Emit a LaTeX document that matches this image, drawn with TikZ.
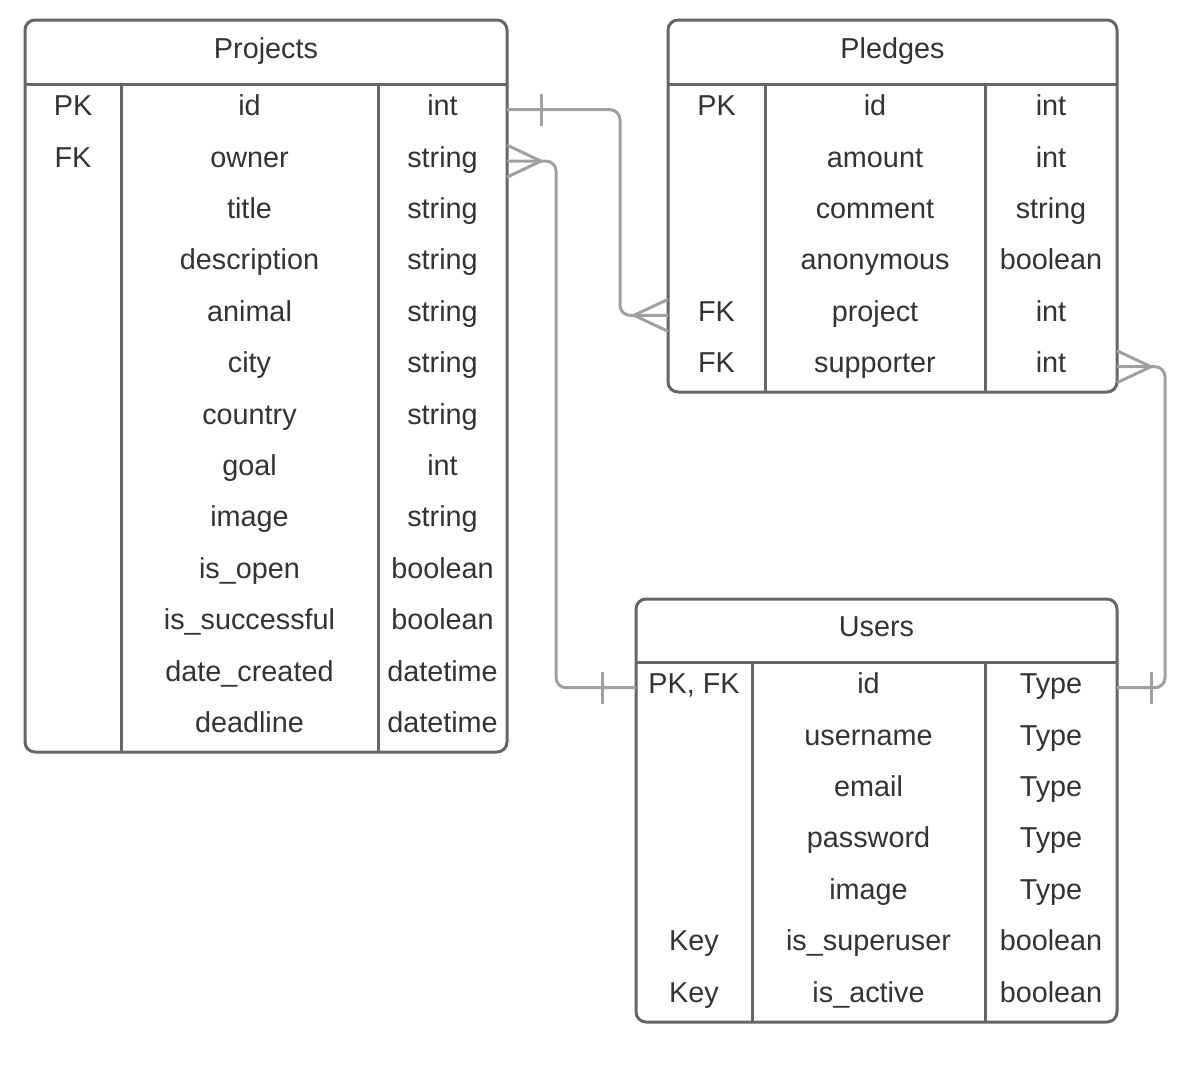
\documentclass[tikz,border=0pt]{standalone}
\usepackage{fontspec}
\setmainfont{Liberation Sans}
\usetikzlibrary{calc}
\definecolor{tableline}{RGB}{102,102,102}
\definecolor{linkline}{RGB}{160,160,160}
\definecolor{celltext}{RGB}{51,51,51}

\begin{document}
\begin{tikzpicture}[x=1pt, y=-1pt,
    cell/.style={text=celltext, font=\fontsize{28.8}{32}\selectfont, inner sep=0pt, text height=20pt, text depth=8pt},
    frame/.style={draw=tableline, line width=3pt, rounded corners=10pt, outer sep=0pt},
    rule/.style={tableline, line width=3pt},
    link/.style={linkline, line width=3pt, rounded corners=10pt},
    linkend/.style={linkline, line width=3pt}]
    \useasboundingbox (0,0) rectangle (1188,1088);

    % Projects
    \node[frame, minimum width=482pt, minimum height=732pt] (projects) at (266,386) {};
    \draw[rule] (25,84) -- (507,84);
    \draw[rule] (121,84) -- (121,752);
    \draw[rule] (378,84) -- (378,752);
    \node[cell] (proj-head) at (266,52) {Projects};
    \foreach \k/\f/\t [count=\i] in {PK/id/int, FK/owner/string, /title/string, /description/string,
        /animal/string, /city/string, /country/string, /goal/int, /image/string, /is\_open/boolean,
        /is\_successful/boolean, /date\_created/datetime, /deadline/datetime} {
        \node[cell] (proj-k\i) at (73,{84+51.4*(\i-0.5)}) {\k};
        \node[cell] (proj-f\i) at (249.5,{84+51.4*(\i-0.5)}) {\f};
        \node[cell] (proj-t\i) at (442.5,{84+51.4*(\i-0.5)}) {\t};
    }

    % Pledges
    \node[frame, minimum width=449pt, minimum height=372pt] (pledges) at (892.5,206) {};
    \draw[rule] (668,84) -- (1117,84);
    \draw[rule] (765,84) -- (765,392);
    \draw[rule] (985,84) -- (985,392);
    \node[cell] (pled-head) at (892.5,52) {Pledges};
    \foreach \k/\f/\t [count=\i] in {PK/id/int, /amount/int, /comment/string, /anonymous/boolean,
        FK/project/int, FK/supporter/int} {
        \node[cell] (pled-k\i) at (716.5,{84+51.4*(\i-0.5)}) {\k};
        \node[cell] (pled-f\i) at (875,{84+51.4*(\i-0.5)}) {\f};
        \node[cell] (pled-t\i) at (1051,{84+51.4*(\i-0.5)}) {\t};
    }

    % Users
    \node[frame, minimum width=481pt, minimum height=423pt] (users) at (876.5,810.5) {};
    \draw[rule] (636,662) -- (1117,662);
    \draw[rule] (752,662) -- (752,1022);
    \draw[rule] (985,662) -- (985,1022);
    \node[cell] (user-head) at (876.5,630.5) {Users};
    \foreach \k/\f/\t [count=\i] in {{PK, FK}/id/Type, /username/Type, /email/Type, /password/Type,
        /image/Type, Key/is\_superuser/boolean, Key/is\_active/boolean} {
        \node[cell] (user-k\i) at (694,{662+51.4*(\i-0.5)}) {\k};
        \node[cell] (user-f\i) at (868.5,{662+51.4*(\i-0.5)}) {\f};
        \node[cell] (user-t\i) at (1051,{662+51.4*(\i-0.5)}) {\t};
    }

    % Projects id -- Pledges project
    \draw[link] (projects.east |- proj-t1) -- ++(113,0) |- (pledges.west |- pled-k5);
    \draw[linkend] ($(projects.east |- proj-t1)+(34,-16)$) -- ++(0,32);
    \draw[linkend] ($(pledges.west |- pled-k5)+(0,-16)$) -- ++(-34,16) -- ++(34,16);

    % Projects owner -- Users id
    \draw[link] (projects.east |- proj-t2) -- ++(49,0) |- (users.west |- user-k1);
    \draw[linkend] ($(projects.east |- proj-t2)+(0,-16)$) -- ++(34,16) -- ++(-34,16);
    \draw[linkend] ($(users.west |- user-k1)+(-34,-16)$) -- ++(0,32);

    % Pledges supporter -- Users id
    \draw[link] (pledges.east |- pled-t6) -- ++(48,0) |- (users.east |- user-t1);
    \draw[linkend] ($(pledges.east |- pled-t6)+(0,-16)$) -- ++(34,16) -- ++(-34,16);
    \draw[linkend] ($(users.east |- user-t1)+(34,-16)$) -- ++(0,32);
\end{tikzpicture}
\end{document}
